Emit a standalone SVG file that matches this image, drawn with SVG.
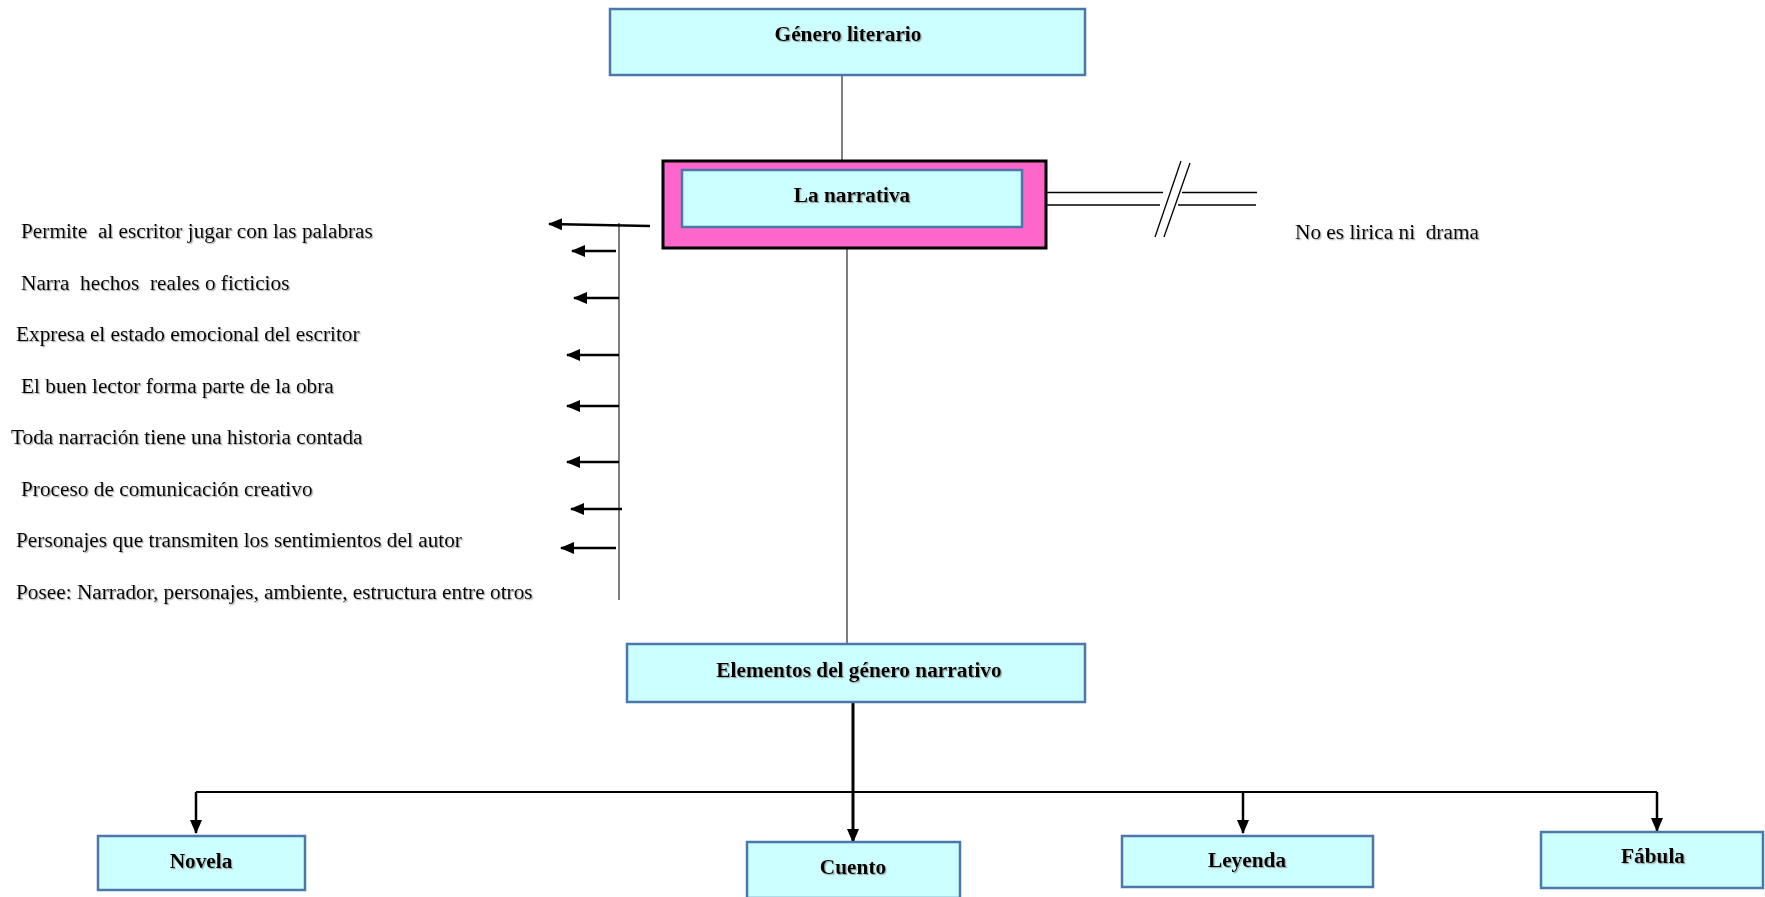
<svg xmlns="http://www.w3.org/2000/svg" width="1765" height="897" viewBox="0 0 1765 897">
<defs>
<style>
.box{fill:#CCFFFF;stroke:#4A78A8;stroke-width:2.5}
.t{font-family:"Liberation Serif","Times New Roman",serif;font-size:21.3px;fill:#000;filter:url(#sh);white-space:pre}
.b{font-weight:bold;text-anchor:middle}
.thin{stroke:#555;stroke-width:1.5;fill:none}
.blk{stroke:#000;fill:none}
</style>
<filter id="sh" x="-5%" y="-30%" width="110%" height="160%">
<feDropShadow dx="1.2" dy="1.2" stdDeviation="0.6" flood-color="#888" flood-opacity="0.7"/>
</filter>
<marker id="ah" viewBox="0 0 14 12" refX="13" refY="6" markerWidth="14" markerHeight="12" markerUnits="userSpaceOnUse" orient="auto">
<path d="M0,0 L14,6 L0,12 Z" fill="#000"/>
</marker>
</defs>
<g id="connectors">
<line class="thin" x1="842" y1="75" x2="842" y2="161"/>
<line class="thin" x1="847" y1="248" x2="847" y2="643"/>
<line class="thin" x1="619" y1="223" x2="619" y2="600"/>
<line class="blk" stroke-width="2.5" x1="650" y1="226" x2="549" y2="224" marker-end="url(#ah)"/>
<line class="blk" stroke-width="2.5" x1="616" y1="251" x2="572" y2="251" marker-end="url(#ah)"/>
<line class="blk" stroke-width="2.5" x1="619" y1="298" x2="574" y2="298" marker-end="url(#ah)"/>
<line class="blk" stroke-width="2.5" x1="619" y1="355" x2="567" y2="355" marker-end="url(#ah)"/>
<line class="blk" stroke-width="2.5" x1="619" y1="406" x2="567" y2="406" marker-end="url(#ah)"/>
<line class="blk" stroke-width="2.5" x1="619" y1="462" x2="567" y2="462" marker-end="url(#ah)"/>
<line class="blk" stroke-width="2.5" x1="622" y1="509" x2="571" y2="509" marker-end="url(#ah)"/>
<line class="blk" stroke-width="2.5" x1="616" y1="548" x2="561" y2="548" marker-end="url(#ah)"/>
<line class="blk" stroke-width="1.5" x1="1046" y1="192.5" x2="1163" y2="192.5"/>
<line class="blk" stroke-width="1.5" x1="1046" y1="205" x2="1160" y2="205"/>
<line class="blk" stroke-width="1.5" x1="1182" y1="192.5" x2="1257" y2="192.5"/>
<line class="blk" stroke-width="1.5" x1="1178" y1="205" x2="1256" y2="205"/>
<line class="blk" stroke-width="1.3" x1="1155" y1="237" x2="1181" y2="161"/>
<line class="blk" stroke-width="1.3" x1="1164" y1="237" x2="1190" y2="163"/>
<line class="blk" stroke-width="3" x1="853" y1="702" x2="853" y2="842" marker-end="url(#ah)"/>
<line class="blk" stroke-width="1.8" x1="196" y1="792" x2="1657" y2="792"/>
<line class="blk" stroke-width="2.5" x1="196" y1="792" x2="196" y2="833" marker-end="url(#ah)"/>
<line class="blk" stroke-width="2.5" x1="1243" y1="792" x2="1243" y2="833" marker-end="url(#ah)"/>
<line class="blk" stroke-width="2.5" x1="1657" y1="792" x2="1657" y2="831" marker-end="url(#ah)"/>
</g>
<g id="genero">
<rect class="box" x="610" y="9" width="475" height="66"/>
<text class="t b" x="848" y="41">Género literario</text>
</g>
<g id="narrativa">
<rect x="663" y="161" width="383" height="87" fill="#FF66CC" stroke="#000" stroke-width="3"/>
<rect class="box" x="682" y="170" width="340" height="57"/>
<text class="t b" x="852" y="202">La narrativa</text>
</g>
<g id="no-es">
<text class="t" x="1295" y="239">No es lirica ni  drama</text>
</g>
<g id="caracteristicas">
<text class="t" x="21" y="238">Permite  al escritor jugar con las palabras</text>
<text class="t" x="21" y="290">Narra  hechos  reales o ficticios</text>
<text class="t" x="16" y="341">Expresa el estado emocional del escritor</text>
<text class="t" x="21" y="393">El buen lector forma parte de la obra</text>
<text class="t" x="11" y="444">Toda narración tiene una historia contada</text>
<text class="t" x="21" y="496">Proceso de comunicación creativo</text>
<text class="t" x="16" y="547">Personajes que transmiten los sentimientos del autor</text>
<text class="t" x="16" y="599">Posee: Narrador, personajes, ambiente, estructura entre otros</text>
</g>
<g id="elementos">
<rect class="box" x="627" y="644" width="458" height="58"/>
<text class="t b" x="859" y="677">Elementos del género narrativo</text>
</g>
<g id="novela">
<rect class="box" x="98" y="836" width="207" height="54"/>
<text class="t b" x="201" y="868">Novela</text>
</g>
<g id="cuento">
<rect class="box" x="747" y="842" width="213" height="56"/>
<text class="t b" x="853" y="874">Cuento</text>
</g>
<g id="leyenda">
<rect class="box" x="1122" y="836" width="251" height="51"/>
<text class="t b" x="1247" y="867">Leyenda</text>
</g>
<g id="fabula">
<rect class="box" x="1541" y="832" width="222" height="56"/>
<text class="t b" x="1653" y="863">Fábula</text>
</g>
</svg>
